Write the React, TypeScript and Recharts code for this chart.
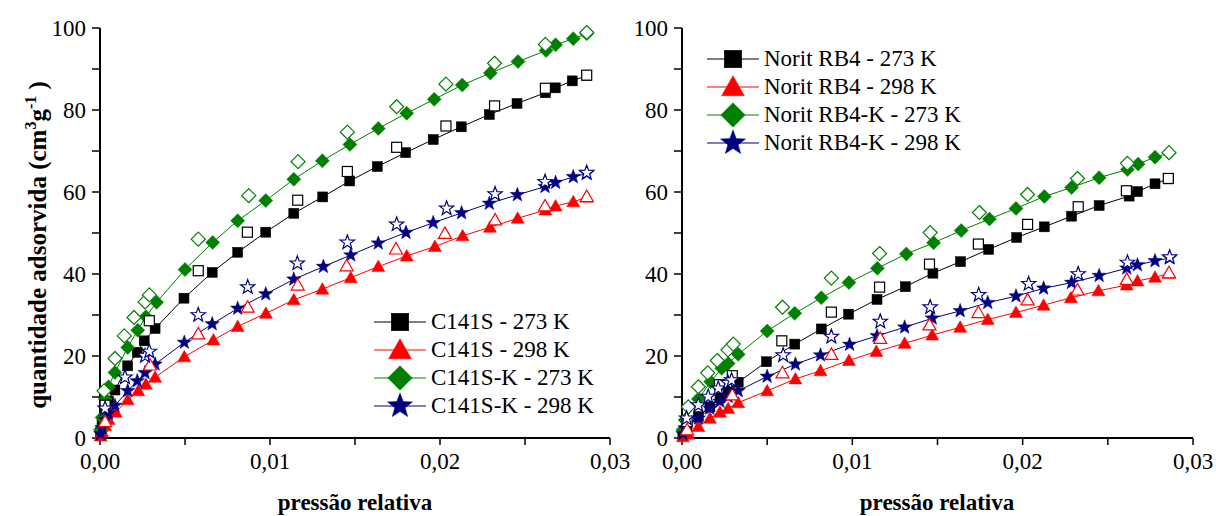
import React from "react";
import { Scatter, ScatterChart, XAxis, YAxis } from "recharts";

// pressão relativa, quantidade adsorvida (cm3 g-1)
const c141s273Ads = [[0.00003,1.5],[0.00012,3.5],[0.0003,6.5],[0.0005,9],[0.00088,11.7],[0.00163,17.6],[0.00219,20.9],[0.0026,23.7],[0.00324,26.7],[0.00494,34.1],[0.0066,40.4],[0.0081,45.3],[0.00975,50.2],[0.0114,54.8],[0.0131,58.8],[0.01469,62.7],[0.01631,66.2],[0.01798,69.6],[0.0196,72.8],[0.02125,75.9],[0.0229,78.9],[0.02453,81.6],[0.0262,84.2],[0.02678,85.4],[0.02778,87.1],[0.02863,88.4]];
const c141s273Des = [[0.0003,8],[0.0029,28.6],[0.00578,40.8],[0.00867,50.2],[0.01163,58.0],[0.01455,65.0],[0.01745,70.9],[0.02035,76.1],[0.02321,81.0],[0.0262,85.3],[0.02863,88.5]];
const c141s298Ads = [[0.00003,0.5],[0.00012,1.5],[0.0003,3],[0.0005,4.5],[0.00092,6.3],[0.00163,9.3],[0.00225,11.5],[0.0027,13.1],[0.00324,14.8],[0.00496,19.8],[0.00667,23.9],[0.0081,27.2],[0.00976,30.4],[0.0114,33.7],[0.01308,36.3],[0.01475,39.1],[0.01637,41.8],[0.01804,44.4],[0.0197,46.7],[0.02133,49.3],[0.02294,51.4],[0.02457,53.6],[0.0262,55.6],[0.0268,56.6],[0.02784,57.6],[0.02863,58.7]];
const c141s298Des = [[0.0003,4],[0.00294,17.8],[0.00578,25.4],[0.00869,31.9],[0.01163,37.3],[0.01451,42.0],[0.01741,46.1],[0.02029,49.9],[0.02324,53.2],[0.02618,56.6],[0.02863,58.9]];
const c141sk273Ads = [[0.00003,2],[0.00012,5],[0.0003,9.5],[0.0005,12.5],[0.00088,16.0],[0.00163,22.1],[0.00222,26.3],[0.0027,29.6],[0.00333,33.1],[0.005,41.1],[0.00663,47.7],[0.0081,53.0],[0.00975,57.9],[0.0114,63.1],[0.01308,67.6],[0.0147,71.6],[0.01637,75.5],[0.01804,79.2],[0.01966,82.6],[0.02131,86.1],[0.02296,89.0],[0.02459,91.8],[0.02624,94.5],[0.0268,95.9],[0.02784,97.4],[0.02863,98.6]];
const c141sk273Des = [[0.00024,11.5],[0.00088,19.4],[0.00143,24.9],[0.002,29.4],[0.00265,33.2],[0.0029,34.9],[0.00578,48.5],[0.00875,59.1],[0.01165,67.4],[0.01455,74.6],[0.01745,80.8],[0.02035,86.3],[0.02321,91.4],[0.0262,96.0],[0.02863,98.9]];
const c141sk298Ads = [[0.00003,1],[0.00012,2.5],[0.0003,4.5],[0.0005,6],[0.00088,7.9],[0.00163,11.5],[0.00219,13.9],[0.00265,15.9],[0.00324,18.0],[0.00496,23.3],[0.0066,27.8],[0.0081,31.6],[0.00975,35.1],[0.0114,38.7],[0.01314,41.8],[0.01475,44.6],[0.01637,47.5],[0.018,50.1],[0.0196,52.5],[0.02127,54.9],[0.0229,57.2],[0.02455,59.3],[0.02618,61.3],[0.0268,62.3],[0.02784,63.7],[0.02863,64.5]];
const c141sk298Des = [[0.0003,7.2],[0.00147,14.8],[0.00265,20],[0.0029,21.1],[0.00578,30.0],[0.00869,36.8],[0.01161,42.6],[0.01455,47.7],[0.01745,52.1],[0.02039,56.0],[0.02324,59.5],[0.02618,62.5],[0.02863,64.7]];

const rb4273Ads = [[0.00005,1],[0.0003,3],[0.00096,5.2],[0.00164,7.6],[0.00223,9.8],[0.00271,11.5],[0.0033,13.6],[0.00496,18.6],[0.00662,22.9],[0.00818,26.6],[0.00978,30.2],[0.01145,33.8],[0.01311,36.9],[0.01473,40.2],[0.01635,43.0],[0.018,46.0],[0.01965,48.9],[0.02127,51.5],[0.02287,54.1],[0.02449,56.7],[0.02625,59.0],[0.02674,60.1],[0.02777,62.0],[0.02855,63.2]];
const rb4273Des = [[0.0003,4],[0.0022,13],[0.00295,15.2],[0.00586,23.7],[0.00877,30.7],[0.0116,36.8],[0.01453,42.4],[0.0174,47.3],[0.02029,52.1],[0.02326,56.4],[0.02609,60.3],[0.02855,63.3]];
const rb4298Ads = [[0.00005,0.3],[0.00037,0.9],[0.00096,2.8],[0.00164,4.8],[0.00223,6.3],[0.00271,7.2],[0.0033,8.6],[0.005,11.5],[0.00666,14.4],[0.00813,16.4],[0.0098,18.9],[0.01141,21.1],[0.01307,23.1],[0.01469,25.1],[0.01633,27.0],[0.01795,28.9],[0.01961,30.6],[0.02123,32.4],[0.02283,34.2],[0.02445,35.9],[0.02611,37.3],[0.02674,38.3],[0.02777,39.2],[0.02859,40.1]];
const rb4298Des = [[0.0003,2],[0.00295,10.5],[0.0059,15.9],[0.00877,20.4],[0.01164,24.3],[0.01453,27.6],[0.0174,30.6],[0.02029,33.7],[0.02322,36.1],[0.02611,38.7],[0.02859,40.3]];
const rb4k273Ads = [[0.00005,2],[0.00018,4.4],[0.00096,9.5],[0.00168,13.7],[0.00233,17.0],[0.00271,18.2],[0.0033,20.4],[0.005,26.1],[0.00662,30.4],[0.00818,34.2],[0.0098,37.9],[0.01147,41.4],[0.01317,44.9],[0.01477,47.6],[0.01639,50.6],[0.01805,53.4],[0.01961,56.0],[0.02127,58.9],[0.02287,61.1],[0.02449,63.5],[0.02615,65.5],[0.02678,66.8],[0.02777,68.5],[0.02859,69.5]];
const rb4k273Des = [[0.00037,7.6],[0.00096,12.5],[0.00151,15.9],[0.00207,18.9],[0.0027,21.5],[0.00301,22.9],[0.0059,31.9],[0.00877,39.0],[0.0116,45.0],[0.01457,50.1],[0.01746,55.0],[0.02029,59.4],[0.02322,63.3],[0.02615,67.0],[0.02859,69.6]];
const rb4k298Ads = [[0.00005,1],[0.00018,2.4],[0.00096,4.8],[0.00164,7.2],[0.00223,8.9],[0.00271,10.1],[0.0033,11.5],[0.005,15.0],[0.00666,18.0],[0.00813,20.2],[0.00984,22.8],[0.01145,24.9],[0.01307,27.0],[0.01469,29.2],[0.01633,31.0],[0.01795,33.0],[0.01961,34.6],[0.02123,36.5],[0.02287,37.9],[0.02449,39.6],[0.02611,41.4],[0.02674,42.2],[0.02777,43.2],[0.02863,43.9]];
const rb4k298Des = [[0.00027,4.8],[0.00096,8.0],[0.00154,10.1],[0.00213,12.1],[0.0027,13.5],[0.00291,14.1],[0.00594,20.2],[0.00877,24.7],[0.01164,28.4],[0.01457,31.9],[0.01742,34.9],[0.02035,37.6],[0.02326,40.0],[0.02615,42.8],[0.02863,44.1]];

const leftLabels = ["C141S - 273 K", "C141S - 298 K", "C141S-K - 273 K", "C141S-K - 298 K"];
const rightLabels = ["Norit RB4 - 273 K", "Norit RB4 - 298 K", "Norit RB4-K - 273 K", "Norit RB4-K - 298 K"];

const xTicks = [0, 0.005, 0.01, 0.015, 0.02, 0.025, 0.03];
const yTicks = [0, 10, 20, 30, 40, 50, 60, 70, 80, 90, 100];

const COLORS = ["#000000", "#ff0000", "#008000", "#000080"];
const KINDS = ["square", "triangle", "diamond", "star"] as const;
type Kind = (typeof KINDS)[number];

const FONT = "'Liberation Serif', 'DejaVu Serif', serif";

const toPts = (arr: number[][]) => arr.map(([p, v]) => ({ p, v }));

function starPoints(cx: number, cy: number, R: number, r: number) {
  return Array.from({ length: 10 }, (_, i) => {
    const a = -Math.PI / 2 + (i * Math.PI) / 5;
    const rad = i % 2 === 0 ? R : r;
    return `${cx + rad * Math.cos(a)},${cy + rad * Math.sin(a)}`;
  }).join(" ");
}

function Marker({ cx, cy, kind, color, filled, s = 1 }: { cx: number; cy: number; kind: Kind; color: string; filled: boolean; s?: number }) {
  const fill = filled ? color : "#fff";
  const sw = filled ? 0.5 : 1.2;
  if (kind === "square") {
    const h = 5 * s;
    return <rect x={cx - h} y={cy - h} width={2 * h} height={2 * h} fill={fill} stroke={color} strokeWidth={sw} />;
  }
  if (kind === "triangle") {
    const w = 6.5 * s;
    return <polygon points={`${cx},${cy - 6.5 * s} ${cx + w},${cy + 5 * s} ${cx - w},${cy + 5 * s}`} fill={fill} stroke={color} strokeWidth={sw} />;
  }
  if (kind === "diamond") {
    const d = 7 * s;
    return <polygon points={`${cx},${cy - d} ${cx + d},${cy} ${cx},${cy + d} ${cx - d},${cy}`} fill={fill} stroke={color} strokeWidth={sw} />;
  }
  return <polygon points={starPoints(cx, cy, 7.5 * s, 3.1 * s)} fill={fill} stroke={color} strokeWidth={sw} />;
}

const fmtX = (v: number) => (Math.abs(v * 100 - Math.round(v * 100)) < 1e-6 ? v.toFixed(2).replace(".", ",") : "");
const fmtY = (v: number) => (v % 20 === 0 ? String(v) : "");

const tickStyle = { fill: "#000", fontSize: 23, fontFamily: FONT };
const axisLine = { stroke: "#000", strokeWidth: 2 };
const tickLine = { stroke: "#000", strokeWidth: 1.5 };

function Panel({ ads, des, width, yWidth, right }: { ads: number[][][]; des: number[][][]; width: number; yWidth: number; right: number }) {
  return (
    <ScatterChart width={width} height={516} margin={{ top: 28, right, bottom: 0, left: 0 }}>
      <XAxis
        dataKey="p"
        type="number"
        domain={[0, 0.03]}
        ticks={xTicks}
        tickFormatter={fmtX}
        height={78}
        tickSize={7}
        tickMargin={8}
        tick={tickStyle}
        axisLine={axisLine}
        tickLine={tickLine}
        interval={0}
      />
      <XAxis xAxisId="top" orientation="top" type="number" domain={[0, 0.03]} ticks={xTicks} height={0} tick={false} mirror tickSize={4} axisLine={axisLine} tickLine={tickLine} />
      <YAxis
        dataKey="v"
        type="number"
        domain={[0, 100]}
        ticks={yTicks}
        tickFormatter={fmtY}
        width={yWidth}
        tickSize={8}
        tickMargin={6}
        tick={tickStyle}
        axisLine={axisLine}
        tickLine={tickLine}
        interval={0}
      />
      <YAxis yAxisId="right" orientation="right" type="number" domain={[0, 100]} ticks={yTicks} width={0} tick={false} mirror tickSize={4} axisLine={axisLine} tickLine={tickLine} />
      {ads.map((d, i) => (
        <Scatter
          key={`a${i}`}
          data={toPts(d)}
          isAnimationActive={false}
          line={{ stroke: COLORS[i], strokeWidth: 1 }}
          lineType="joint"
          shape={(props: any) => <Marker cx={props.cx} cy={props.cy} kind={KINDS[i]} color={COLORS[i]} filled />}
        />
      ))}
      {des.map((d, i) => (
        <Scatter
          key={`d${i}`}
          data={toPts(d)}
          isAnimationActive={false}
          shape={(props: any) => <Marker cx={props.cx} cy={props.cy} kind={KINDS[i]} color={COLORS[i]} filled={false} />}
        />
      ))}
    </ScatterChart>
  );
}

function LegendBox({ labels, left, top }: { labels: string[]; left: number; top: number }) {
  return (
    <div style={{ position: "absolute", left, top, fontFamily: FONT, fontSize: 23 }}>
      {labels.map((l, i) => (
        <div key={l} style={{ display: "flex", alignItems: "center", height: 28 }}>
          <svg width={52} height={28}>
            <line x1={0} x2={52} y1={14} y2={14} stroke={COLORS[i]} strokeWidth={1} />
            <Marker cx={26} cy={14} kind={KINDS[i]} color={COLORS[i]} filled s={1.75} />
          </svg>
          <span style={{ marginLeft: 5, whiteSpace: "nowrap", lineHeight: "28px" }}>{l}</span>
        </div>
      ))}
    </div>
  );
}

const xTitle = (cx: number) => (
  <div style={{ position: "absolute", left: cx - 150, width: 300, top: 491, height: 24, lineHeight: "24px", textAlign: "center", fontFamily: FONT, fontWeight: "bold", fontSize: 23 }}>
    pressão relativa
  </div>
);

export default function App() {
  return (
    <div style={{ position: "absolute", left: 0, top: 0, width: 1216, height: 516, background: "#fff", overflow: "hidden" }}>
      <div style={{ position: "absolute", left: 0, top: 0 }}>
        <Panel ads={[c141s273Ads, c141s298Ads, c141sk273Ads, c141sk298Ads]} des={[c141s273Des, c141s298Des, c141sk273Des, c141sk298Des]} width={645} yWidth={100} right={35} />
      </div>
      <div style={{ position: "absolute", left: 620, top: 0 }}>
        <Panel ads={[rb4273Ads, rb4298Ads, rb4k273Ads, rb4k298Ads]} des={[rb4273Des, rb4298Des, rb4k273Des, rb4k298Des]} width={596} yWidth={62} right={23} />
      </div>
      <LegendBox labels={leftLabels} left={374} top={308} />
      <LegendBox labels={rightLabels} left={707} top={45} />
      {xTitle(355)}
      {xTitle(937)}
      <div
        style={{
          position: "absolute",
          left: 37,
          top: 245,
          transform: "translate(-50%, -50%) rotate(-90deg)",
          whiteSpace: "nowrap",
          fontFamily: FONT,
          fontWeight: "bold",
          fontSize: 25,
        }}
      >
        quantidade adsorvida (cm<sup style={{ fontSize: 16 }}>3</sup>g<sup style={{ fontSize: 16 }}>-1</sup> )
      </div>
    </div>
  );
}
